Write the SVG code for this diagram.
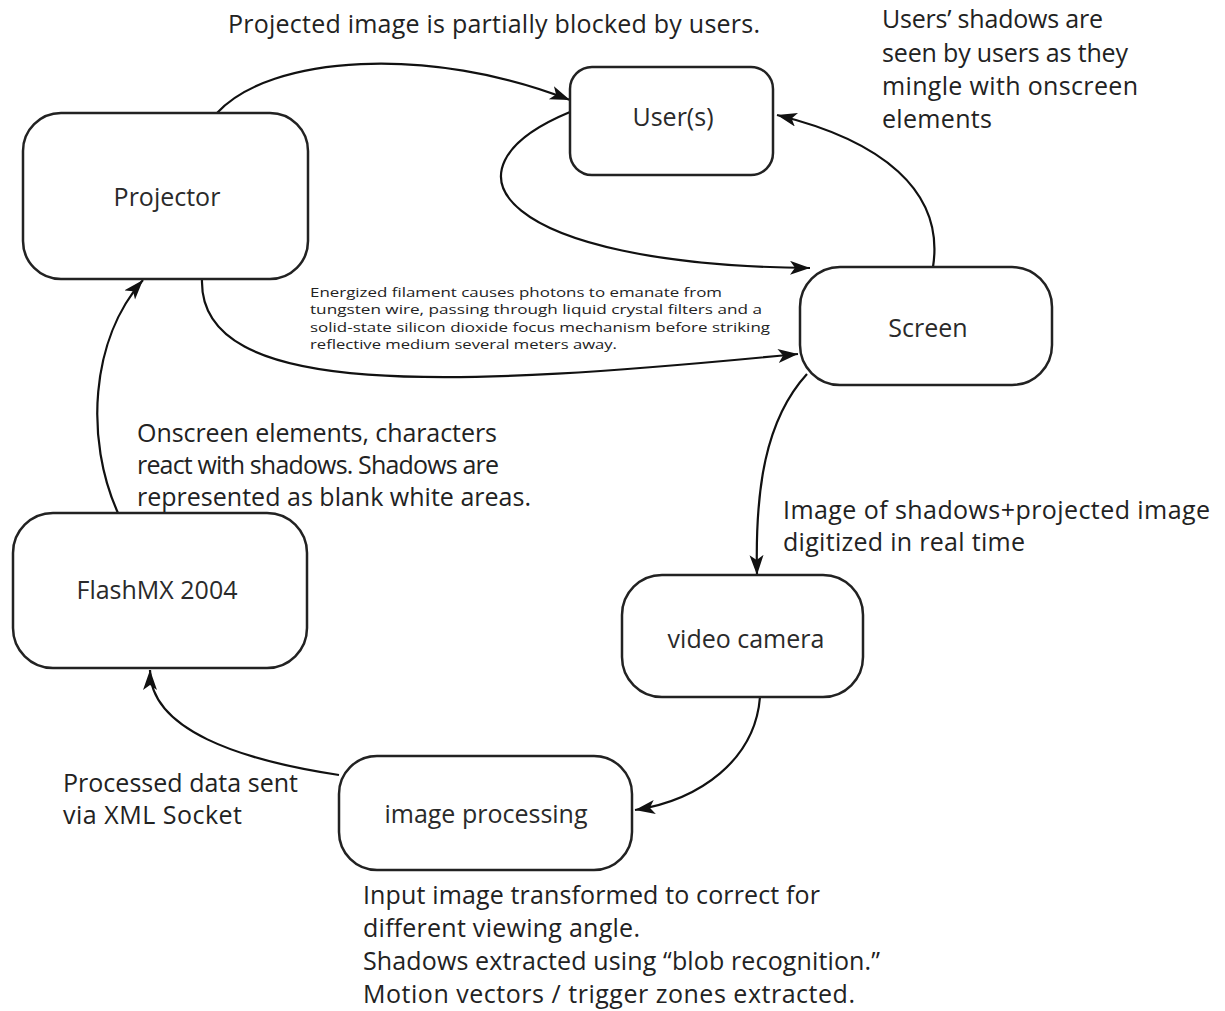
<svg xmlns="http://www.w3.org/2000/svg" width="1225" height="1011" viewBox="0 0 1225 1011">
<style>
.box{fill:#fff;stroke:#222;stroke-width:2.5}
.lbl{font-family:"Open Sans","Noto Sans",sans-serif;font-size:25px;fill:#2a2a2a;text-anchor:middle}
.note{font-family:"Open Sans","Noto Sans",sans-serif;font-size:25px;fill:#222}
.small{font-family:"Open Sans","Noto Sans",sans-serif;font-size:12.5px;fill:#222}
.conn{fill:none;stroke:#111;stroke-width:2.2}
</style>
<defs>
<marker id="arr" markerUnits="userSpaceOnUse" markerWidth="22" markerHeight="16" refX="20" refY="7" orient="auto">
<path d="M0,0 L20,7 L0,14 L5,7 z" fill="#111"/>
</marker>
</defs>
<rect width="1225" height="1011" fill="#fff"/>
<g id="connectors">
<path class="conn" d="M217,113 C 270,55 430,45 570,100" marker-end="url(#arr)"/>
<path class="conn" d="M570,112 C 430,170 500,265 810,268" marker-end="url(#arr)"/>
<path class="conn" d="M933,267 C 945,190 880,140 777,115" marker-end="url(#arr)"/>
<path class="conn" d="M202,279 C 198,400 450,388 798,354" marker-end="url(#arr)"/>
<path class="conn" d="M807,374 C 765,420 755,490 757,575" marker-end="url(#arr)"/>
<path class="conn" d="M760,697 C 755,760 700,800 635,810" marker-end="url(#arr)"/>
<path class="conn" d="M339,775 C 240,760 150,730 150,670" marker-end="url(#arr)"/>
<path class="conn" d="M118,513 C 85,440 90,340 143,280" marker-end="url(#arr)"/>
</g>
<g id="projector">
<rect class="box" x="23" y="113" width="285" height="166" rx="38"/>
<text class="lbl" x="167" y="206">Projector</text>
</g>
<g id="users">
<rect class="box" x="570" y="67" width="203" height="108" rx="22"/>
<text class="lbl" x="673" y="126">User(s)</text>
</g>
<g id="screen">
<rect class="box" x="800" y="267" width="252" height="118" rx="40"/>
<text class="lbl" x="928" y="337">Screen</text>
</g>
<g id="flashmx">
<rect class="box" x="13" y="513" width="294" height="155" rx="40"/>
<text class="lbl" x="157" y="599">FlashMX 2004</text>
</g>
<g id="video-camera">
<rect class="box" x="622" y="575" width="241" height="122" rx="40"/>
<text class="lbl" x="746" y="648">video camera</text>
</g>
<g id="image-processing">
<rect class="box" x="339" y="756" width="293" height="114" rx="38"/>
<text class="lbl" x="486" y="823">image processing</text>
</g>
<g id="labels">
<text class="note" x="228" y="33" textLength="532">Projected image is partially blocked by users.</text>
<text class="note" x="882" y="28" textLength="221">Users’ shadows are</text>
<text class="note" x="882" y="62" textLength="246">seen by users as they</text>
<text class="note" x="882" y="95" textLength="256">mingle with onscreen</text>
<text class="note" x="882" y="128" textLength="110">elements</text>
<text class="small" x="310" y="297" textLength="412" lengthAdjust="spacingAndGlyphs">Energized filament causes photons to emanate from</text>
<text class="small" x="310" y="314.3" textLength="452" lengthAdjust="spacingAndGlyphs">tungsten wire, passing through liquid crystal filters and a</text>
<text class="small" x="310" y="331.6" textLength="460" lengthAdjust="spacingAndGlyphs">solid-state silicon dioxide focus mechanism before striking</text>
<text class="small" x="310" y="348.9" textLength="307" lengthAdjust="spacingAndGlyphs">reflective medium several meters away.</text>
<text class="note" x="137" y="442" textLength="360">Onscreen elements, characters</text>
<text class="note" x="137" y="474" textLength="362">react with shadows. Shadows are</text>
<text class="note" x="137" y="506" textLength="394">represented as blank white areas.</text>
<text class="note" x="783" y="519" textLength="427">Image of shadows+projected image</text>
<text class="note" x="783" y="551" textLength="242">digitized in real time</text>
<text class="note" x="63" y="792" textLength="235">Processed data sent</text>
<text class="note" x="63" y="824" textLength="179">via XML Socket</text>
<text class="note" x="363" y="904" textLength="457">Input image transformed to correct for</text>
<text class="note" x="363" y="937" textLength="277">different viewing angle.</text>
<text class="note" x="363" y="970" textLength="517">Shadows extracted using “blob recognition.”</text>
<text class="note" x="363" y="1003" textLength="492">Motion vectors / trigger zones extracted.</text>
</g>
</svg>
